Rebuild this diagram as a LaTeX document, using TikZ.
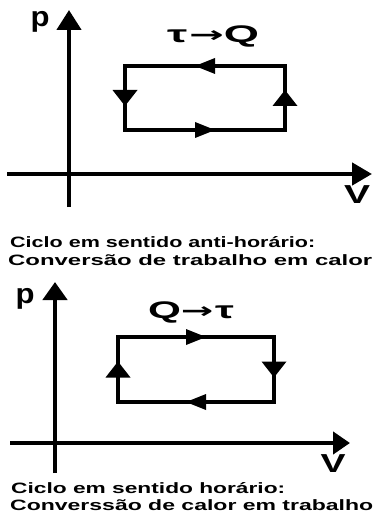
\documentclass[tikz,border=0pt]{standalone}
\usepackage{fontspec}
\setmainfont{Liberation Sans}
\newfontfamily\arrfont{DejaVu Sans}
\usetikzlibrary{arrows.meta,decorations.markings}
\begin{document}
\begin{tikzpicture}[x=1pt,y=-1pt,
  axis/.style={line width=4.5pt},
  cyc/.style={line width=4.5pt, line join=miter},
  lbl/.style={inner sep=0pt, font=\bfseries},
  harr/.style={postaction={decorate,decoration={markings,
     mark=at position 0.5 with {\fill (10,0) -- (-10,8) -- (-10,-8) -- cycle;}}}},
  varr/.style={postaction={decorate,decoration={markings,
     mark=at position 0.5 with {\fill (8,0) -- (-8,12.5) -- (-8,-12.5) -- cycle;}}}},
]
\useasboundingbox (0,0) rectangle (374,513);
% ---------- top diagram ----------
\coordinate (ya0) at (69,207); \coordinate (ya1) at (69,10);
\coordinate (xa0) at (7,174);  \coordinate (xa1) at (372,174);
\draw[axis,-{Triangle[width=24pt,length=20pt]}] (ya0) -- (ya1);
\draw[axis,-{Triangle[width=22pt,length=20pt]}] (xa0) -- (xa1);
\node[lbl,anchor=base,font=\bfseries\fontsize{28}{28}\selectfont] (pA) at (40,27) {\resizebox{19pt}{\height}{p}};
\node[lbl,anchor=base,font=\bfseries\fontsize{26}{26}\selectfont] (vA) at (357,203) {\resizebox{26pt}{\height}{V}};
\coordinate (a1) at (125,66); \coordinate (a2) at (285,66);
\coordinate (a3) at (285,130); \coordinate (a4) at (125,130);
\draw[cyc] (a1) -- (a2) -- (a3) -- (a4) -- cycle;
\path[harr] (a2) -- (a1);
\path[harr] (a4) -- (a3);
\path[varr] (a1) -- (a4);
\path[varr] (a3) -- (a2);
\node[lbl,font=\bfseries\fontsize{24}{24}\selectfont] (tA) at (213,36) {\resizebox{92pt}{\height}{τ\hspace{1pt}{\arrfont\bfseries\fontsize{22}{22}\selectfont →}Q}};
\node[lbl,anchor=base west,font=\bfseries\fontsize{15}{16}\selectfont] (cA1) at (10,247) {\resizebox{305pt}{\height}{Ciclo em sentido anti-horário:}};
\node[lbl,anchor=base west,font=\bfseries\fontsize{15}{16}\selectfont] (cA2) at (8,265) {\resizebox{364pt}{\height}{Conversão de trabalho em calor}};
% ---------- bottom diagram ----------
\coordinate (yb0) at (55,473); \coordinate (yb1) at (55,282);
\coordinate (xb0) at (10,443); \coordinate (xb1) at (350,443);
\draw[axis,-{Triangle[width=24pt,length=18pt]}] (yb0) -- (yb1);
\draw[axis,-{Triangle[width=22pt,length=17pt]}] (xb0) -- (xb1);
\node[lbl,anchor=base,font=\bfseries\fontsize{28}{28}\selectfont] (pB) at (25,303) {\resizebox{19pt}{\height}{p}};
\node[lbl,anchor=base,font=\bfseries\fontsize{26}{26}\selectfont] (vB) at (333,472) {\resizebox{25pt}{\height}{V}};
\coordinate (b1) at (118,337); \coordinate (b2) at (274,337);
\coordinate (b3) at (274,402); \coordinate (b4) at (118,402);
\draw[cyc] (b1) -- (b2) -- (b3) -- (b4) -- cycle;
\path[harr] (b1) -- (b2);
\path[harr] (b3) -- (b4);
\path[varr] (b4) -- (b1);
\path[varr] (b2) -- (b3);
\node[lbl,font=\bfseries\fontsize{24}{24}\selectfont] (tB) at (191,312) {\resizebox{86pt}{\height}{Q{\arrfont\bfseries\fontsize{22}{22}\selectfont →}\hspace{1pt}τ}};
\node[lbl,anchor=base west,font=\bfseries\fontsize{15}{16}\selectfont] (cB1) at (11,493) {\resizebox{274pt}{\height}{Ciclo em sentido horário:}};
\node[lbl,anchor=base west,font=\bfseries\fontsize{15}{16}\selectfont] (cB2) at (10,510) {\resizebox{363pt}{\height}{Converssão de calor em trabalho}};
\end{tikzpicture}
\end{document}
